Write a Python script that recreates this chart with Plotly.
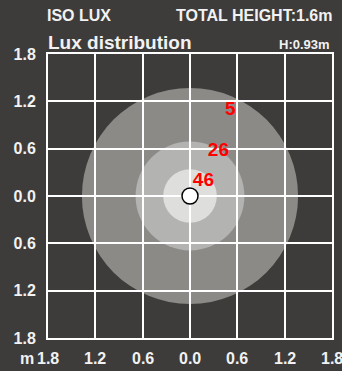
import plotly.graph_objects as go

# Iso-lux rings: radius (m) and illuminance value (lux)
ring_radius = [1.37, 0.69, 0.34]
ring_lux = [5, 26, 46]
ring_fill = ["#8b8a87", "#b3b3b2", "#dededd"]

# Lux label anchor positions (m)
label_x = [0.51, 0.36, 0.17]
label_y = [1.09, 0.57, 0.19]

tick_vals = [-1.8, -1.2, -0.6, 0.0, 0.6, 1.2, 1.8]
tick_text = ["1.8", "1.2", "0.6", "0.0", "0.6", "1.2", "1.8"]

BG = "#3e3c3a"
TXT = "#f2f2f2"
FONT = "Liberation Sans"

W, H = 342, 371
L, R, T, B = 48, 10, 54, 33

fig = go.Figure()

shapes = []
for r, c in zip(ring_radius, ring_fill):
    shapes.append(dict(type="circle", xref="x", yref="y",
                       x0=-r, y0=-r, x1=r, y1=r,
                       fillcolor=c, line=dict(width=0), layer="below"))

# Luminaire position
fig.add_trace(go.Scatter(x=[0], y=[0], mode="markers",
                         marker=dict(size=16, color="white",
                                     line=dict(color="black", width=1.5)),
                         hoverinfo="skip", showlegend=False))

fig.add_trace(go.Scatter(x=label_x, y=label_y, mode="text",
                         text=[str(v) for v in ring_lux],
                         textfont=dict(family=FONT, size=19, color="#ff0000",
                                       weight="bold"),
                         hoverinfo="skip", showlegend=False))

tick_font = dict(family=FONT, size=16, color=TXT, weight="bold")

axis_common = dict(range=[-1.8, 1.8], tickvals=tick_vals, ticktext=tick_text,
                   showgrid=True, gridcolor="white", gridwidth=2,
                   zeroline=False, showline=True, linecolor="white",
                   linewidth=2, mirror=True, ticks="", automargin=False,
                   tickfont=tick_font, fixedrange=True)

# Header texts, positioned in pixels
pw, ph = W - L - R, H - T - B
specs = [
    ("ISO LUX", 45, 15, "left", 16),
    ("TOTAL HEIGHT:1.6m", 334, 15, "right", 16),
    ("Lux distribution", 46, 42, "left", 19),
    ("H:0.93m", 332, 45, "right", 13),
    ("m", 27, 358, "center", 16),
]
anns = []
for text, px, py, align, size in specs:
    anns.append(dict(text=text, xref="paper", yref="paper",
                     x=(px - L) / pw, y=(H - B - py) / ph,
                     xanchor=align, yanchor="middle", showarrow=False,
                     font=dict(family=FONT, size=size, color=TXT,
                               weight="bold")))

# Bottom axis labels as annotations so the last one may run off the edge
for v, t in zip(tick_vals, tick_text):
    anns.append(dict(text=t, xref="x", yref="paper", x=v,
                     y=(H - B - 358) / ph, xanchor="center", yanchor="middle",
                     showarrow=False, font=tick_font))

fig.update_layout(
    width=W, height=H,
    margin=dict(l=L, r=R, t=T, b=B),
    paper_bgcolor=BG, plot_bgcolor=BG,
    xaxis=dict(**axis_common, showticklabels=False),
    yaxis=dict(**axis_common, ticklabelstandoff=7),
    shapes=shapes,
    annotations=anns,
)

fig.write_html("out.html")
